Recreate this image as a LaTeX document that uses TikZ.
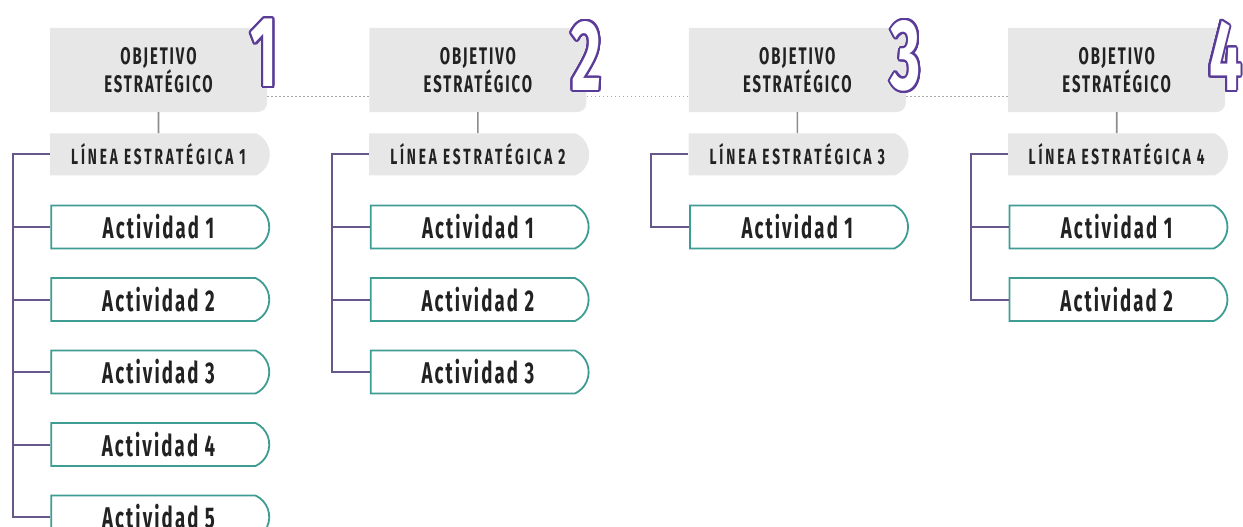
\documentclass[tikz,border=0pt]{standalone}
\usepackage{fontspec}
\usepackage{contour}
\usetikzlibrary{positioning,shapes.misc}

\newfontfamily\objfont[FakeStretch=0.62,LetterSpace=8]{Fira Sans}
\newfontfamily\linefont[FakeStretch=0.62,LetterSpace=13]{Fira Sans}
\newfontfamily\actfont[FakeStretch=0.62,LetterSpace=7]{Fira Sans}
\newfontfamily\digitfont[FakeStretch=0.58]{Fira Sans}

\definecolor{boxgray}{HTML}{E7E7E7}
\definecolor{stemgray}{HTML}{8C8C8C}
\definecolor{linkgray}{HTML}{A8A8A8}
\definecolor{actteal}{HTML}{3E9D92}
\definecolor{treepurple}{HTML}{67588C}
\definecolor{digitpurple}{HTML}{5A3C98}
\definecolor{ink}{HTML}{222222}

\contourlength{2pt}
\contournumber{32}

\begin{document}
\begin{tikzpicture}[
    node distance=27.7pt and 102pt,
    objbox/.style={rectangle, fill=white, minimum width=217pt, minimum height=84pt, inner sep=0pt,
        align=center, text=ink, font={\objfont\bfseries\fontsize{24}{18.5}\selectfont},
        path picture={\fill[boxgray] (path picture bounding box.north west)
            -- (path picture bounding box.north east)
            [rounded corners=9pt] -- (path picture bounding box.south east)
            [sharp corners] -- (path picture bounding box.south west) -- cycle;}},
    linebox/.style={rounded rectangle, rounded rectangle left arc=none, rounded rectangle arc length=130,
        fill=boxgray, minimum width=220pt, minimum height=42pt, inner sep=0pt,
        text=ink, font={\linefont\bfseries\fontsize{22}{22}\selectfont}},
    actbox/.style={rounded rectangle, rounded rectangle left arc=none, rounded rectangle arc length=130,
        draw=actteal, line width=1.8pt, fill=white, minimum width=218pt, minimum height=43pt, inner sep=0pt,
        text=ink, font={\actfont\bfseries\fontsize{30}{30}\selectfont}},
    digit/.style={inner sep=0pt, font={\digitfont\bfseries\fontsize{100}{100}\selectfont}},
    stem/.style={draw=stemgray, line width=1.6pt},
    tree/.style={draw=treepurple, line width=2pt},
    link/.style={draw=linkgray, line width=1pt, dash pattern=on 1.5pt off 2.5pt}
]
\useasboundingbox (0,0) rectangle (1243pt,-527pt);

% -------- Column 1 --------
\node[objbox] at (158.5pt,-70pt) (obj1) {OBJETIVO\\ESTRATÉGICO};
\node[linebox, below=21pt of obj1] (line1) {LÍNEA ESTRATÉGICA 1};
\node[actbox, below=29pt of line1] (act11) {Actividad 1};
\node[actbox, below=of act11] (act12) {Actividad 2};
\node[actbox, below=of act12] (act13) {Actividad 3};
\node[actbox, below=of act13] (act14) {Actividad 4};
\node[actbox, below=of act14] (act15) {Actividad 5};

% -------- Column 2 --------
\node[objbox, right=of obj1] (obj2) {OBJETIVO\\ESTRATÉGICO};
\node[linebox, below=21pt of obj2] (line2) {LÍNEA ESTRATÉGICA 2};
\node[actbox, below=29pt of line2] (act21) {Actividad 1};
\node[actbox, below=of act21] (act22) {Actividad 2};
\node[actbox, below=of act22] (act23) {Actividad 3};

% -------- Column 3 --------
\node[objbox, right=of obj2] (obj3) {OBJETIVO\\ESTRATÉGICO};
\node[linebox, below=21pt of obj3] (line3) {LÍNEA ESTRATÉGICA 3};
\node[actbox, below=29pt of line3] (act31) {Actividad 1};

% -------- Column 4 --------
\node[objbox, right=of obj3] (obj4) {OBJETIVO\\ESTRATÉGICO};
\node[linebox, below=21pt of obj4] (line4) {LÍNEA ESTRATÉGICA 4};
\node[actbox, below=29pt of line4] (act41) {Actividad 1};
\node[actbox, below=of act41] (act42) {Actividad 2};

% -------- Numbers --------
\node[digit] at ([xshift=-3pt,yshift=-26pt]obj1.north east) (num1) {\contour{digitpurple}{\textcolor{white}{1}}};
\node[digit] at ([yshift=-29pt]obj2.north east) (num2) {\contour{digitpurple}{\textcolor{white}{2}}};
\node[digit] at ([yshift=-29pt]obj3.north east) (num3) {\contour{digitpurple}{\textcolor{white}{3}}};
\node[digit] at ([yshift=-29pt]obj4.north east) (num4) {\contour{digitpurple}{\textcolor{white}{4}}};

% -------- Dotted links --------
\draw[link] ([yshift=-27pt]obj1.east) -- ([yshift=-27pt]obj2.west);
\draw[link] ([yshift=-27pt]obj2.east) -- ([yshift=-27pt]obj3.west);
\draw[link] ([yshift=-27pt]obj3.east) -- ([yshift=-27pt]obj4.west);

% -------- Stems --------
\draw[stem] (obj1) -- (line1);
\draw[stem] (obj2) -- (line2);
\draw[stem] (obj3) -- (line3);
\draw[stem] (obj4) -- (line4);

% -------- Trees --------
\draw[tree] (line1.west) -- ++(-37pt,0) |- (act15.west);
\draw[tree] (act11.west) -- ++(-37pt,0);
\draw[tree] (act12.west) -- ++(-37pt,0);
\draw[tree] (act13.west) -- ++(-37pt,0);
\draw[tree] (act14.west) -- ++(-37pt,0);

\draw[tree] (line2.west) -- ++(-37pt,0) |- (act23.west);
\draw[tree] (act21.west) -- ++(-37pt,0);
\draw[tree] (act22.west) -- ++(-37pt,0);

\draw[tree] (line3.west) -- ++(-37pt,0) |- (act31.west);

\draw[tree] (line4.west) -- ++(-37pt,0) |- (act42.west);
\draw[tree] (act41.west) -- ++(-37pt,0);

\end{tikzpicture}
\end{document}
